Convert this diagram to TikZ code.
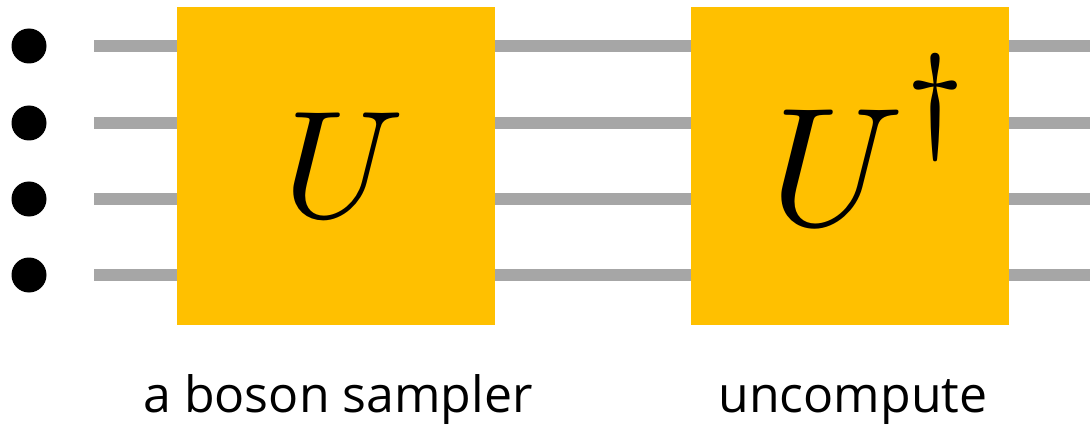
\documentclass[tikz,border=0pt]{standalone}
\usepackage{fontspec}
\usepackage{graphicx}
\setmainfont{Open Sans}
\definecolor{gateyellow}{HTML}{FFC000}
\definecolor{wiregray}{HTML}{A6A6A6}
\begin{document}
\begin{tikzpicture}[x=1pt,y=-1pt,
  wire/.style={draw=wiregray,line width=12pt},
  qubit/.style={circle,fill=black,inner sep=0pt,minimum size=35pt},
  gate/.style={fill=gateyellow,inner sep=0pt,minimum width=318pt,minimum height=318pt},
  glyph/.style={inner sep=0pt,anchor=base},
  caption/.style={font=\fontsize{50}{56}\selectfont,inner sep=0pt,anchor=base}]
\useasboundingbox (0,0) rectangle (1090,425);
\foreach \i/\y in {1/46,2/123,3/199,4/275}{
  \node[qubit] (q\i) at (29,\y) {};
  \coordinate (s\i) at (94,\y);
  \coordinate (e\i) at (1090,\y);
  \draw[wire] (s\i) -- (e\i);
}
\node[gate] (U) at (336,166) {};
\node[gate] (Ud) at (850,166) {};
\node[glyph] (Ut) at (344,218) {\scalebox{15.3}{$U$}};
\node[glyph] (Udt) at (873,225) {\scalebox{16.9}{$U^{\raisebox{1.6pt}{$\scriptstyle\dagger$}}$}};
\node[caption] (l1) at (338,412) {a boson sampler};
\node[caption] (l2) at (853,412) {uncompute};
\end{tikzpicture}
\end{document}
